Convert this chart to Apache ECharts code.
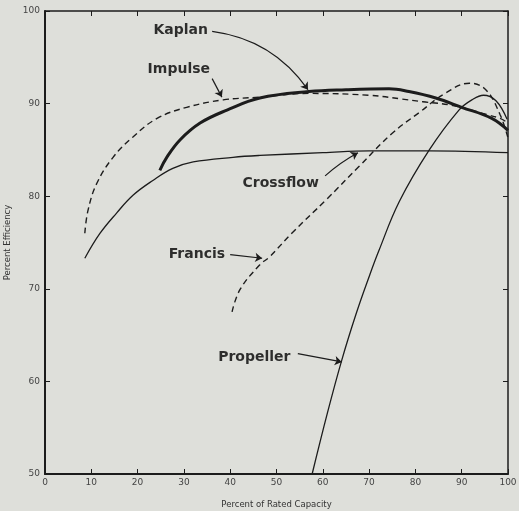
<!DOCTYPE html>
<html>
<head>
<meta charset="utf-8">
<script src="https://cdn.jsdelivr.net/npm/echarts@6/dist/echarts.min.js"></script>
<style>
  html, body { margin: 0; padding: 0; background: #dedfda; }
  #chart { width: 519px; height: 511px; }
</style>
</head>
<body>
<div id="chart"></div>
<script>
// Turbine efficiency vs. percent of rated capacity
const xTicks = [0, 10, 20, 30, 40, 50, 60, 70, 80, 90, 100];
const yTicks = [50, 60, 70, 80, 90, 100];

const kaplan = [[24.8, 82.8], [26.3, 84.2], [29.2, 86.1], [33.5, 87.9], [39.3, 89.3], [46.4, 90.6],
  [57, 91.3], [65, 91.5], [74.3, 91.6], [78.6, 91.3], [84.4, 90.6], [90, 89.6], [96.5, 88.4], [100, 87.1]];
const impulse = [[8.6, 76.0], [9.3, 78.5], [11.2, 81.4], [14.7, 84.2], [19, 86.4], [24.2, 88.4],
  [30.6, 89.6], [38.5, 90.4], [46.4, 90.7], [57, 91.1], [70, 90.9], [77, 90.5], [81.6, 90.2],
  [88.1, 89.8], [95.5, 88.8], [98.3, 88.4], [100, 87.9]];
const crossflow = [[8.6, 73.3], [11.9, 76.0], [15.5, 78.2], [19, 80.1], [23.3, 81.7], [27.6, 83.0],
  [32, 83.7], [40.6, 84.2], [46.4, 84.4], [60, 84.7], [70, 84.9], [83, 84.9], [100, 84.7]];
const francis = [[40.4, 67.5], [42.1, 69.9], [46.4, 72.6], [48.4, 73.4], [53.3, 76], [60.7, 79.6],
  [67.8, 83.2], [75, 86.8], [81, 89.1], [86.4, 91.1], [91.7, 92.2], [95.2, 91.5], [98.3, 88.8], [100, 86.3]];
const propeller = [[57.7, 50], [61, 56.6], [64.1, 62.3], [67.2, 67.3], [70, 71.3], [72.1, 74.1],
  [76.5, 79.4], [83, 85.0], [89.4, 89.3], [92.2, 90.4], [94.7, 90.9], [97.4, 90.3], [99.8, 88.3]];

// Curve names with label anchor and arrow (in data units)
const labelNames = ['Kaplan', 'Impulse', 'Crossflow', 'Francis', 'Propeller'];
const labelAt = [[29.3, 97.9], [28.9, 93.7], [50.9, 81.4], [32.8, 73.7], [45.2, 62.6]];
const arrowFrom = [[36.1, 97.8], [36.1, 92.7], [60.5, 82.2], [40.0, 73.7], [54.6, 63.0]];
const arrowTo = [[56.8, 91.5], [38.2, 90.7], [67.6, 84.7], [46.9, 73.3], [64.1, 62.1]];
const arrowBend = [0.22, 0, 0.06, 0, 0];

const ink = '#1c1c1c';
const chart = echarts.init(document.getElementById('chart'), null, { renderer: 'canvas' });

function curve(name, data, width, dashed) {
  return {
    name, type: 'line', data, smooth: 0.4, showSymbol: false, symbol: 'none',
    lineStyle: { color: ink, width, type: dashed ? [6, 4] : 'solid' },
    z: 3
  };
}

const tickFont = { fontFamily: 'DejaVu Sans', fontSize: 9, color: '#444' };

chart.setOption({
  animation: false,
  backgroundColor: '#dedfda',
  grid: { left: 45, right: 11, top: 11, bottom: 37, containLabel: false, outerBoundsMode: 'none' },
  xAxis: [{
    type: 'value', position: 'bottom', min: xTicks[0], max: xTicks[xTicks.length - 1], interval: 10,
    name: 'Percent of Rated Capacity', nameLocation: 'middle', nameGap: 26,
    nameTextStyle: { fontFamily: 'DejaVu Sans', fontSize: 8.5, color: '#333' },
    axisLine: { onZero: false, lineStyle: { color: ink, width: 2 } },
    axisTick: { inside: true, length: 5, lineStyle: { color: ink, width: 1 } },
    axisLabel: Object.assign({ margin: 4 }, tickFont),
    splitLine: { show: false }
  }, {
    type: 'value', position: 'top', min: xTicks[0], max: xTicks[xTicks.length - 1], interval: 10,
    axisLine: { onZero: false, lineStyle: { color: ink, width: 1.5 } },
    axisTick: { inside: true, length: 5, lineStyle: { color: ink, width: 1 } },
    axisLabel: { show: false }, splitLine: { show: false }
  }],
  yAxis: [{
    type: 'value', position: 'left', min: yTicks[0], max: yTicks[yTicks.length - 1], interval: 10,
    name: 'Percent Efficiency', nameLocation: 'middle', nameGap: 24,
    nameTextStyle: { fontFamily: 'DejaVu Sans', fontSize: 8.5, color: '#333' },
    axisLine: { onZero: false, lineStyle: { color: ink, width: 2 } },
    axisTick: { inside: true, length: 5, lineStyle: { color: ink, width: 1 } },
    axisLabel: Object.assign({ margin: 5 }, tickFont),
    splitLine: { show: false }
  }, {
    type: 'value', position: 'right', min: yTicks[0], max: yTicks[yTicks.length - 1], interval: 10,
    axisLine: { onZero: false, lineStyle: { color: ink, width: 1.5 } },
    axisTick: { inside: true, length: 5, lineStyle: { color: ink, width: 1 } },
    axisLabel: { show: false }, splitLine: { show: false }
  }],
  series: [
    curve('Crossflow', crossflow, 1.3, false),
    curve('Impulse', impulse, 1.4, true),
    curve('Francis', francis, 1.4, true),
    curve('Propeller', propeller, 1.3, false),
    curve('Kaplan', kaplan, 3, false),
    {
      type: 'lines', coordinateSystem: 'cartesian2d', polyline: false,
      symbol: ['none', 'arrow'], symbolSize: 7,
      lineStyle: { color: ink, width: 1.2, opacity: 1 },
      data: labelNames.map((n, i) => ({
        coords: [arrowFrom[i], arrowTo[i]],
        lineStyle: { curveness: arrowBend[i] }
      })),
      z: 4
    },
    {
      type: 'scatter', symbolSize: 0,
      data: labelNames.map((n, i) => ({ name: n, value: labelAt[i] })),
      label: {
        show: true, position: 'inside', formatter: p => p.name,
        fontFamily: 'DejaVu Sans', fontWeight: 'bold', fontSize: 14, color: '#000'
      },
      z: 5
    }
  ]
});
</script>
</body>
</html>
